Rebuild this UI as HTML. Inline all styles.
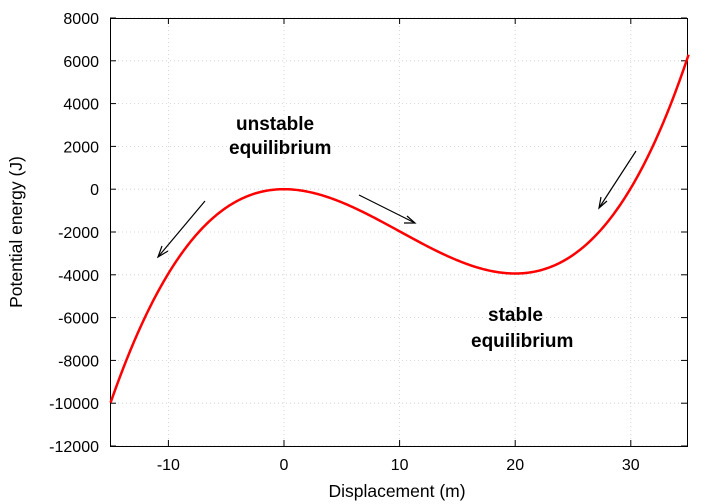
<!DOCTYPE html>
<html><head><meta charset="utf-8"><style>
body{margin:0;background:#fff}
svg{display:block;font-family:"Liberation Sans",sans-serif}
</style></head><body>
<svg id="s" width="720" height="504" viewBox="0 0 720 504">
<g id="grid" stroke="#ccc" stroke-width="0.8" stroke-dasharray="1,3"></g>
<rect x="110.5" y="18.5" width="577" height="428" fill="none" stroke="#000" stroke-width="1"/>
<g id="ticks" stroke="#000" stroke-width="1"></g>
<g id="labels" font-size="16" fill="#000"></g>
<path id="curve" fill="none" stroke="#f00" stroke-width="2.5"/>
<g stroke="#000" stroke-width="1.2" fill="none">
<line x1="205" y1="201" x2="158" y2="257"/><polyline points="162,246 158,257 168,251"/>
<line x1="359" y1="195" x2="415" y2="223"/><polyline points="404,223 415,223 407,216"/>
<line x1="636" y1="151" x2="599" y2="208"/><polyline points="601,197 599,208 607,201"/>
</g>
<g font-size="19" font-weight="bold">
<text x="236" y="130">unstable</text>
<text x="229" y="154">equilibrium</text>
<text x="488" y="321">stable</text>
<text x="471" y="347">equilibrium</text>
</g>
<text x="397" y="497" font-size="17.5" text-anchor="middle">Displacement (m)</text>
<text transform="translate(22,232) rotate(-90)" font-size="17.5" text-anchor="middle">Potential energy (J)</text>
</svg>
<script>
const X=v=>284+(v)*11.56, Y=v=>18+(8000-v)/2000*42.8;
let g='',t='',l='';
for(let v=-10;v<=30;v+=10){const x=X(v);g+=`<line x1="${x}" y1="18" x2="${x}" y2="446"/>`;t+=`<line x1="${x}" y1="446" x2="${x}" y2="440"/><line x1="${x}" y1="18" x2="${x}" y2="24"/>`;l+=`<text x="${x}" y="470" text-anchor="middle">${v}</text>`;}
for(let v=-12000;v<=8000;v+=2000){const y=Y(v);g+=`<line x1="110" y1="${y}" x2="687" y2="${y}"/>`;t+=`<line x1="110" y1="${y}" x2="116" y2="${y}"/><line x1="687" y1="${y}" x2="681" y2="${y}"/>`;l+=`<text x="99" y="${y+6}" text-anchor="end">${v}</text>`;}
document.getElementById('grid').innerHTML=g;document.getElementById('ticks').innerHTML=t;document.getElementById('labels').innerHTML=l;
let d='';for(let i=0;i<=500;i++){const x=-15+i*0.1;const u=0.985*x*x*(x-30)+ (x>20?0.005*Math.pow(x-20,4):0);d+=(i?'L':'M')+X(x).toFixed(2)+','+Y(u).toFixed(2);}
document.getElementById('curve').setAttribute('d',d);
</script>
</body></html>
